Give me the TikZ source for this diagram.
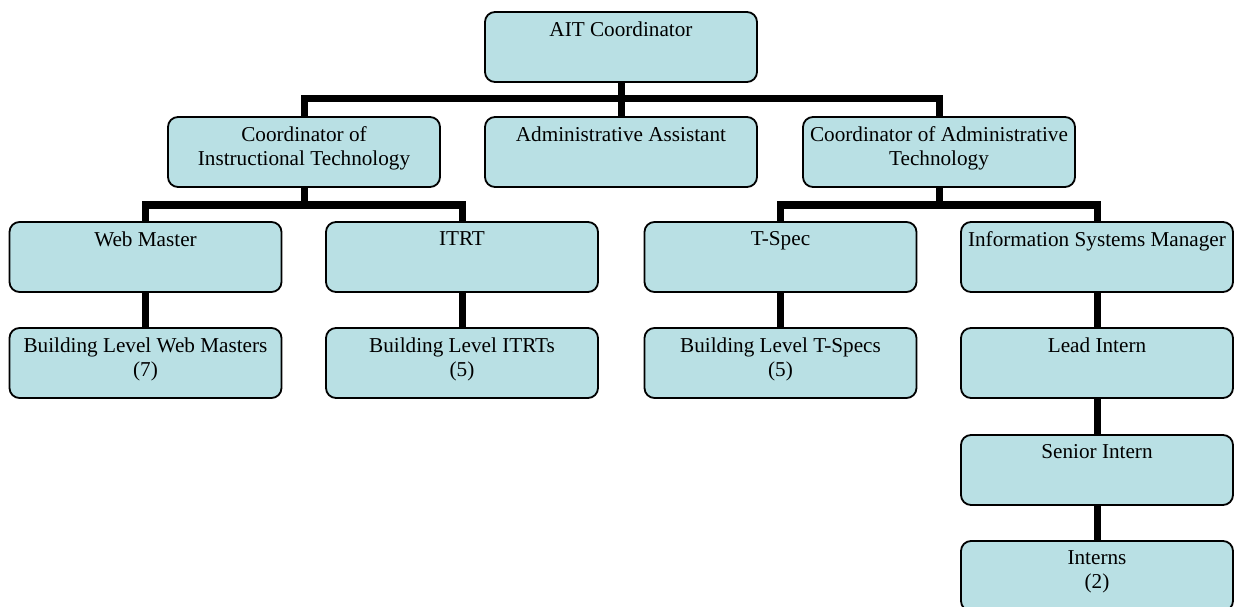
\documentclass[tikz,border=0pt]{standalone}
\usepackage{fontspec}
\setmainfont{Liberation Serif}
\usetikzlibrary{backgrounds}
\definecolor{boxfill}{RGB}{185,224,228}
\tikzset{
  unit/.style={draw=black, line width=1.8pt, fill=boxfill, rounded corners=10pt,
    minimum width=272pt, minimum height=70pt, inner sep=0pt},
  caption/.style={anchor=north, yshift=-10.5pt, align=center, inner sep=0pt,
    font=\fontsize{21.2}{24}\selectfont},
  link/.style={line width=7pt, draw=black, line join=miter},
}
\begin{document}
\begin{tikzpicture}[x=1pt, y=-1pt]
\useasboundingbox (0,0) rectangle (1243,607);
\clip (0,0) rectangle (1243,607);

% level 1
\node[unit, label={[caption]north:AIT Coordinator}] (ait) at (621,47) {};
% level 2
\node[unit, label={[caption]north:Coordinator of\\Instructional Technology}] (cit) at (304,152) {};
\node[unit, label={[caption]north:Administrative Assistant}] (adm) at (621,152) {};
\node[unit, label={[caption]north:Coordinator of Administrative\\Technology}] (cat) at (939,152) {};
% level 3
\node[unit, label={[caption]north:Web Master}] (web) at (145.5,257) {};
\node[unit, label={[caption]north:ITRT}] (itrt) at (462,257) {};
\node[unit, label={[caption]north:T-Spec}] (tspec) at (780.5,257) {};
\node[unit, label={[caption]north:Information Systems Manager}] (ism) at (1097,257) {};
% level 4
\node[unit, label={[caption]north:Building Level Web Masters\\(7)}] (bweb) at (145.5,363) {};
\node[unit, label={[caption]north:Building Level ITRTs\\(5)}] (bitrt) at (462,363) {};
\node[unit, label={[caption]north:Building Level T-Specs\\(5)}] (btspec) at (780.5,363) {};
\node[unit, label={[caption]north:Lead Intern}] (lead) at (1097,363) {};
% interns chain
\node[unit, label={[caption]north:Senior Intern}] (senior) at (1097,470) {};
\node[unit, label={[caption]north:Interns\\(2)}] (interns) at (1097,576) {};

% connectors behind the boxes
\begin{scope}[on background layer]
  \coordinate (b1) at (621,99);
  \coordinate (b2l) at (304,205);
  \coordinate (b2r) at (939,205);
  \draw[link] (ait.south) -- (adm.north);
  \draw[link] (cit.north) |- (b1) -| (cat.north);
  \draw[link] (cit.south) -- (b2l);
  \draw[link] (web.north) |- (b2l) -| (itrt.north);
  \draw[link] (cat.south) -- (b2r);
  \draw[link] (tspec.north) |- (b2r) -| (ism.north);
  \draw[link] (web.south) -- (bweb.north);
  \draw[link] (itrt.south) -- (bitrt.north);
  \draw[link] (tspec.south) -- (btspec.north);
  \draw[link] (ism.south) -- (lead.north);
  \draw[link] (lead.south) -- (senior.north);
  \draw[link] (senior.south) -- (interns.north);
\end{scope}
\end{tikzpicture}
\end{document}
